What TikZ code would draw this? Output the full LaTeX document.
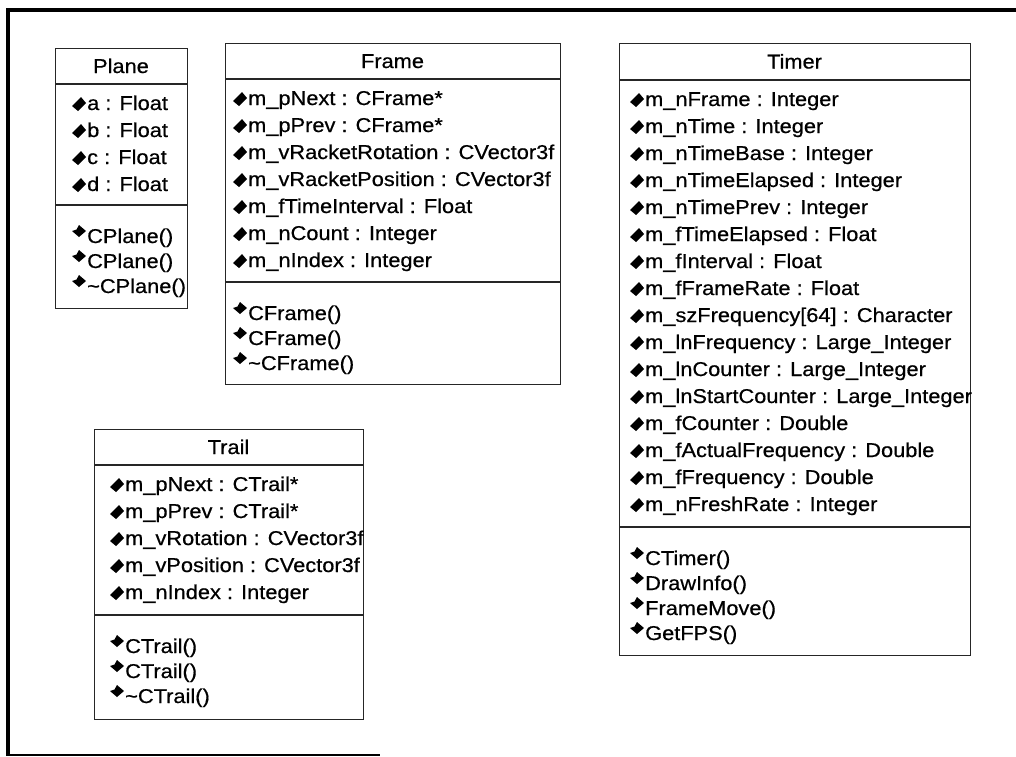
\documentclass[tikz,border=0pt]{standalone}
\usepackage{fontspec}
\setmainfont{Liberation Sans}[FakeStretch=1.09,FakeBold=0.6]
\begin{document}
% units: 1 = 1pt, y grows downwards
\newcommand\attrrow[4]{%
  \begin{scope}[shift={(#2,#3)}]
    \fill[icon] (-15,3) -- (-6,-6) -- (-1,0) -- (-9,8) -- cycle;
  \end{scope}
  \node[member] (#1) at (#2,#3+7) {#4};}
\newcommand\operrow[4]{%
  \begin{scope}[shift={(#2,#3)}]
    \fill[icon] (-15,-5) -- (-10.5,-6.5) -- (-8,-11) -- (-1,-5) -- (-8,1) -- cycle;
  \end{scope}
  \node[member] (#1) at (#2,#3+7) {#4};}
\newcommand\classbox[8]{% name, left, top, right, bottom, title sep, attr sep, title
  \node[classframe, minimum width={#4-#2}, minimum height={#5-#3}, anchor=north west] (#1) at (#2,#3) {};
  \draw[boxline] (#2,#6) -- (#4,#6);
  \draw[boxline] (#2,#7) -- (#4,#7);
  \node[member, anchor=base] (#1-title) at ({(#2+#4)/2},{(#3+#6)/2+7}) {#8};}
\begin{tikzpicture}[x=1pt, y=-1pt,
  every node/.style={font=\fontsize{20}{24}\selectfont},
  member/.style={anchor=base west, inner sep=0pt},
  classframe/.style={draw=black!85, line width=1.3pt, inner sep=0pt},
  boxline/.style={draw=black!85, line width=1.3pt},
  icon/.style={fill=black},
  rim/.style={draw=black, line cap=butt}]
\useasboundingbox (0,0) rectangle (1016,756);
% page rim
\draw[rim, line width=4pt] (8,755) -- (8,9.5) -- (1016,9.5);
\draw[rim, line width=2.5pt] (6,755) -- (380,755);

% Plane
\classbox{plane}{55}{48}{187}{308}{84}{205}{Plane}
\attrrow{pa1}{87}{103}{a : Float}
\attrrow{pa2}{87}{130}{b : Float}
\attrrow{pa3}{87}{157}{c : Float}
\attrrow{pa4}{87}{184}{d : Float}
\operrow{po1}{87}{236}{CPlane()}
\operrow{po2}{87}{261}{CPlane()}
\operrow{po3}{87}{286}{\textasciitilde CPlane()}

% Frame
\classbox{frame}{225}{43}{560}{384}{79}{282}{Frame}
\attrrow{fa1}{248}{98}{m\_pNext : CFrame*}
\attrrow{fa2}{248}{125}{m\_pPrev : CFrame*}
\attrrow{fa3}{248}{152}{m\_vRacketRotation : CVector3f}
\attrrow{fa4}{248}{179}{m\_vRacketPosition : CVector3f}
\attrrow{fa5}{248}{206}{m\_fTimeInterval : Float}
\attrrow{fa6}{248}{233}{m\_nCount : Integer}
\attrrow{fa7}{248}{260}{m\_nIndex : Integer}
\operrow{fo1}{248}{313}{CFrame()}
\operrow{fo2}{248}{338}{CFrame()}
\operrow{fo3}{248}{363}{\textasciitilde CFrame()}

% Timer
\classbox{timer}{619}{43}{970}{655}{80}{527}{Timer}
\attrrow{ta1}{645}{99}{m\_nFrame : Integer}
\attrrow{ta2}{645}{126}{m\_nTime : Integer}
\attrrow{ta3}{645}{153}{m\_nTimeBase : Integer}
\attrrow{ta4}{645}{180}{m\_nTimeElapsed : Integer}
\attrrow{ta5}{645}{207}{m\_nTimePrev : Integer}
\attrrow{ta6}{645}{234}{m\_fTimeElapsed : Float}
\attrrow{ta7}{645}{261}{m\_fInterval : Float}
\attrrow{ta8}{645}{288}{m\_fFrameRate : Float}
\attrrow{ta9}{645}{315}{m\_szFrequency[64] : Character}
\attrrow{ta10}{645}{342}{m\_lnFrequency : Large\_Integer}
\attrrow{ta11}{645}{369}{m\_lnCounter : Large\_Integer}
\attrrow{ta12}{645}{396}{m\_lnStartCounter : Large\_Integer}
\attrrow{ta13}{645}{423}{m\_fCounter : Double}
\attrrow{ta14}{645}{450}{m\_fActualFrequency : Double}
\attrrow{ta15}{645}{477}{m\_fFrequency : Double}
\attrrow{ta16}{645}{504}{m\_nFreshRate : Integer}
\operrow{to1}{645}{558}{CTimer()}
\operrow{to2}{645}{583}{DrawInfo()}
\operrow{to3}{645}{608}{FrameMove()}
\operrow{to4}{645}{633}{GetFPS()}

% Trail
\classbox{trail}{94}{429}{363}{719}{465}{615}{Trail}
\attrrow{ra1}{125}{484}{m\_pNext : CTrail*}
\attrrow{ra2}{125}{511}{m\_pPrev : CTrail*}
\attrrow{ra3}{125}{538}{m\_vRotation : CVector3f}
\attrrow{ra4}{125}{565}{m\_vPosition : CVector3f}
\attrrow{ra5}{125}{592}{m\_nIndex : Integer}
\operrow{ro1}{125}{646}{CTrail()}
\operrow{ro2}{125}{671}{CTrail()}
\operrow{ro3}{125}{696}{\textasciitilde CTrail()}
\end{tikzpicture}
\end{document}
